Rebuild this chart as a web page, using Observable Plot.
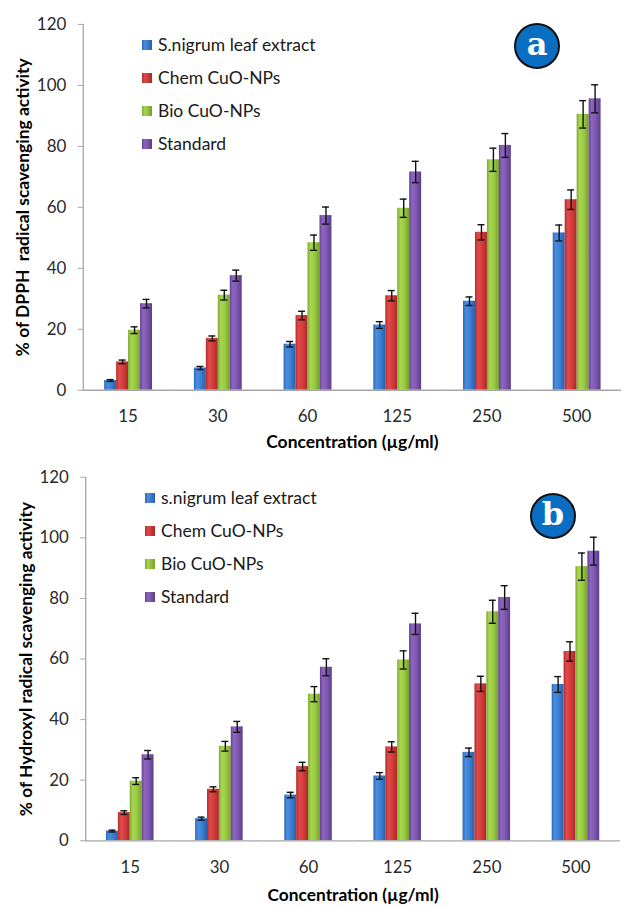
<!DOCTYPE html>
<html>
<head>
<meta charset="utf-8">
<script src="https://cdn.jsdelivr.net/npm/d3@7"></script>
<script src="https://cdn.jsdelivr.net/npm/@observablehq/plot@0.6"></script>
<style>
  html, body { margin: 0; padding: 0; background: #fff; }
  #wrap { position: relative; width: 624px; height: 908px; overflow: hidden; font-family: Lato, "Open Sans", sans-serif; }
  .panel { position: absolute; left: 0; }
  .panel svg { overflow: visible; }
  [aria-label="fx-axis label"], [aria-label="y-axis label"] { font-weight: bold; fill: #000; font-size: 17.5px; }
  [aria-label="fx-axis tick label"], [aria-label="y-axis tick label"] { font-size: 17px; fill: #2a2a2a; }
  .leg { position: absolute; font-size: 17.5px; color: #1a1a1a; white-space: nowrap; line-height: 1; }
  .sw { position: absolute; width: 10px; height: 10px; }
  .badge { position: absolute; width: 42px; height: 42px; border-radius: 50%; background: #0a6fc2; border: 2px solid #111;
           color: #fff; font-family: "DejaVu Serif", "Liberation Serif", serif; font-weight: bold; font-size: 32px;
           display: flex; align-items: center; justify-content: center; line-height: 1; }
  .badge span { position: relative; top: -2px; }
</style>
</head>
<body>
<svg width="0" height="0" style="position:absolute">
  <defs>
    <linearGradient id="gBlue" x1="0" x2="1" y1="0" y2="0">
      <stop offset="0" stop-color="#2f66b3"/><stop offset="0.25" stop-color="#4a8ee0"/>
      <stop offset="0.6" stop-color="#3b7fd4"/><stop offset="1" stop-color="#2a5ea8"/>
    </linearGradient>
    <linearGradient id="gRed" x1="0" x2="1" y1="0" y2="0">
      <stop offset="0" stop-color="#b22c2c"/><stop offset="0.25" stop-color="#e04a4a"/>
      <stop offset="0.6" stop-color="#d63c3c"/><stop offset="1" stop-color="#a82828"/>
    </linearGradient>
    <linearGradient id="gGreen" x1="0" x2="1" y1="0" y2="0">
      <stop offset="0" stop-color="#7ca832"/><stop offset="0.25" stop-color="#a8d650"/>
      <stop offset="0.6" stop-color="#9acb42"/><stop offset="1" stop-color="#74a02c"/>
    </linearGradient>
    <linearGradient id="gPurple" x1="0" x2="1" y1="0" y2="0">
      <stop offset="0" stop-color="#64428f"/><stop offset="0.25" stop-color="#8d66bf"/>
      <stop offset="0.6" stop-color="#7f58b2"/><stop offset="1" stop-color="#5c3d86"/>
    </linearGradient>
  </defs>
</svg>
<div id="wrap">
  <div id="pa" class="panel" style="top:0"></div>
  <div id="pb" class="panel" style="top:454px"></div>
</div>
<script>
// Concentrations tested (µg/ml) and the four samples
const concentrations = ["15", "30", "60", "125", "250", "500"];
const series = ["S.nigrum leaf extract", "Chem CuO-NPs", "Bio CuO-NPs", "Standard"];
const seriesB = ["s.nigrum leaf extract", "Chem CuO-NPs", "Bio CuO-NPs", "Standard"];

// Mean scavenging activity (%)
const leafExtract = [3.2, 7.3, 15.1, 21.4, 29.2, 51.6];
const chemCuO     = [9.3, 17.0, 24.5, 31.0, 51.8, 62.5];
const bioCuO      = [19.7, 31.2, 48.4, 59.7, 75.6, 90.5];
const standard    = [28.4, 37.6, 57.3, 71.6, 80.3, 95.6];

// Error (± SD)
const leafErr  = [0.3, 0.5, 0.9, 1.1, 1.4, 2.6];
const chemErr  = [0.6, 0.8, 1.4, 1.7, 2.5, 3.2];
const bioErr   = [1.1, 1.6, 2.5, 3.0, 3.8, 4.5];
const stdErr   = [1.4, 1.8, 2.8, 3.5, 3.9, 4.6];

const yTicks = [0, 20, 40, 60, 80, 100, 120];
const fills = ["url(#gBlue)", "url(#gRed)", "url(#gGreen)", "url(#gPurple)"];
const swatchFills = [
  "linear-gradient(90deg,#2f66b3,#4a8ee0 30%,#2a5ea8)",
  "linear-gradient(90deg,#b22c2c,#e04a4a 30%,#a82828)",
  "linear-gradient(90deg,#7ca832,#a8d650 30%,#74a02c)",
  "linear-gradient(90deg,#64428f,#8d66bf 30%,#5c3d86)"
];

const values = [leafExtract, chemCuO, bioCuO, standard];
const errors = [leafErr, chemErr, bioErr, stdErr];
const rows = concentrations.flatMap((c, i) =>
  series.map((s, j) => ({conc: c, series: s, value: values[j][i], err: errors[j][i]}))
);

function chart({yLabel, width, marginLeft, marginRight, marginTop, marginBottom, xLabelOffset}) {
  return Plot.plot({
    width, height: 454,
    marginLeft, marginRight, marginTop, marginBottom,
    style: {fontFamily: "Lato, 'Open Sans', sans-serif", fontSize: "16px", color: "#333", background: "transparent"},
    fx: {domain: concentrations, paddingInner: 0, paddingOuter: 0},
    x: {domain: series, paddingInner: 0, paddingOuter: 1.47, axis: null},
    y: {domain: [0, 120]},
    color: {domain: series, range: fills},
    marks: [
      Plot.barY(rows, {fx: "conc", x: "series", y: "value", fill: "series"}),
      Plot.ruleX(rows, {fx: "conc", x: "series", y1: d => d.value - d.err, y2: d => d.value + d.err, stroke: "#111", strokeWidth: 1.4}),
      Plot.tickY(rows, {fx: "conc", x: "series", y: d => d.value + d.err, stroke: "#111", strokeWidth: 1.4, insetLeft: 2.5, insetRight: 2.5}),
      Plot.tickY(rows, {fx: "conc", x: "series", y: d => d.value - d.err, stroke: "#111", strokeWidth: 1.4, insetLeft: 2.5, insetRight: 2.5}),
      Plot.ruleY([0], {stroke: "#a6a6a6", strokeWidth: 1.3}),
      Plot.frame({anchor: "left", facetAnchor: "left", stroke: "#a6a6a6", strokeWidth: 1.3}),
      Plot.axisY({ticks: yTicks, tickSize: 5, tickPadding: 12, stroke: "#a6a6a6",
                  label: yLabel, labelAnchor: "center", labelOffset: 67, labelArrow: false}),
      Plot.axisFx({anchor: "bottom", tickSize: 0, tickPadding: 20,
                   label: "Concentration (µg/ml)", labelAnchor: "center", labelOffset: xLabelOffset, labelArrow: false})
    ]
  });
}

document.getElementById("pa").append(chart({
  yLabel: "% of DPPH  radical scavenging activity",
  width: 626, marginLeft: 81.5, marginRight: 1.5, marginTop: 24, marginBottom: 63, xLabelOffset: 58
}));
document.getElementById("pb").append(chart({
  yLabel: "% of Hydroxyl radical scavenging activity",
  width: 630, marginLeft: 84, marginRight: 1.5, marginTop: 23, marginBottom: 64, xLabelOffset: 61
}));

// Legends and panel badges
const wrap = document.getElementById("wrap");
function legend(names, left, top0) {
  names.forEach((name, j) => {
    const cy = top0 + j * 33;
    const sw = document.createElement("div");
    sw.className = "sw";
    sw.style.left = left + "px";
    sw.style.top = (cy - 5) + "px";
    sw.style.background = swatchFills[j];
    wrap.append(sw);
    const t = document.createElement("div");
    t.className = "leg";
    t.style.left = (left + 16) + "px";
    t.style.top = (cy - 9) + "px";
    t.textContent = name;
    wrap.append(t);
  });
}
legend(series, 142, 45);
legend(seriesB, 145, 498);

function badge(letter, cx, cy) {
  const b = document.createElement("div");
  b.className = "badge";
  b.style.left = (cx - 23) + "px";
  b.style.top = (cy - 23) + "px";
  const s = document.createElement("span");
  s.textContent = letter;
  b.append(s);
  wrap.append(b);
}
badge("a", 537, 46);
badge("b", 553, 516);
</script>
</body>
</html>
